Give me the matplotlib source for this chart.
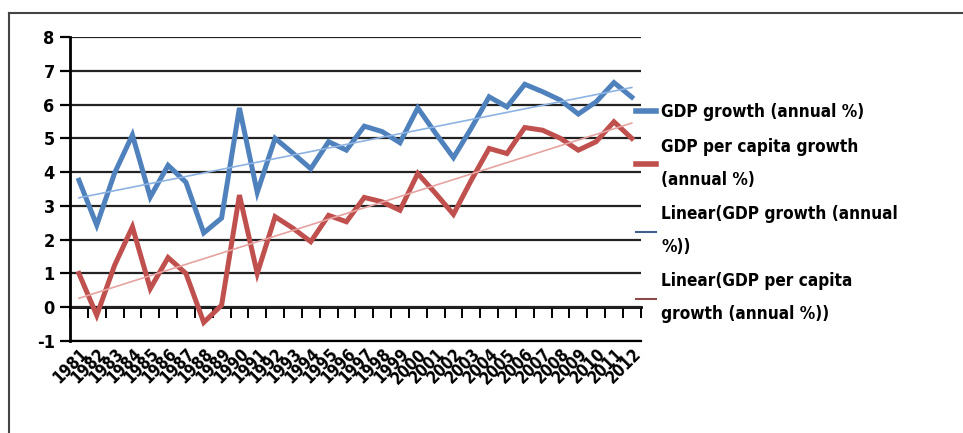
import numpy as np
import matplotlib
matplotlib.use("Agg")
import matplotlib.pyplot as plt
from matplotlib.lines import Line2D

# Bangladesh, 1981-2012
years = [str(y) for y in range(1981, 2013)]
gdp_growth = [3.76, 2.43, 3.97, 5.10, 3.26, 4.20, 3.70, 2.20, 2.64, 5.90,
              3.40, 5.00, 4.56, 4.10, 4.90, 4.65, 5.36, 5.20, 4.87, 5.90,
              5.15, 4.43, 5.30, 6.23, 5.93, 6.60, 6.38, 6.13, 5.72, 6.08,
              6.65, 6.22]
gdp_pc_growth = [1.00, -0.24, 1.24, 2.38, 0.55, 1.47, 1.00, -0.45, 0.06, 3.32,
                 1.00, 2.68, 2.34, 1.94, 2.72, 2.53, 3.25, 3.12, 2.87, 3.96,
                 3.37, 2.75, 3.76, 4.70, 4.55, 5.32, 5.24, 5.00, 4.65, 4.90,
                 5.49, 5.00]
y_ticks = list(range(-1, 9))

blue = "#4F81BD"
red = "#C0504D"

plt.rcParams["font.family"] = ["DejaVu Sans"]
plt.rcParams["font.stretch"] = "condensed"
plt.rcParams["font.weight"] = "bold"

fig = plt.figure(figsize=(9.63, 4.33), dpi=100)
ax = fig.add_axes([70 / 963, 1 - 341 / 433, 570.7 / 963, 304 / 433])

x = np.arange(len(years))
ax.plot(x, gdp_growth, color=blue, lw=3.6, solid_joinstyle="miter")
ax.plot(x, gdp_pc_growth, color=red, lw=3.6, solid_joinstyle="miter")

# linear trend lines
for series, col in [(gdp_growth, "#8DB3E2"), (gdp_pc_growth, "#E6A3A1")]:
    k, b = np.polyfit(x, series, 1)
    ax.plot(x, k * x + b, color=col, lw=1.2)

ax.set_xlim(-0.5, len(years) - 0.5)
ax.set_ylim(-1, 8)
ax.set_yticks(y_ticks)
ax.set_yticklabels([str(v) for v in y_ticks], fontsize=13, fontweight="bold")
ax.yaxis.grid(True, color="#222222", lw=1.6)
ax.set_axisbelow(True)
ax.tick_params(axis="y", direction="out", length=7, width=1.6, pad=4)

for side in ["top", "right"]:
    ax.spines[side].set_visible(False)
ax.spines["left"].set_linewidth(2)
ax.spines["bottom"].set_linewidth(1.6)

# year labels sit under the bottom of the chart
ax.set_xticks(x)
ax.set_xticklabels(years, rotation=45, ha="right", va="top",
                   rotation_mode="anchor", fontsize=12, fontweight="bold")
ax.tick_params(axis="x", length=0, pad=3)

# category axis crosses at zero, with boundary ticks
sec = ax.secondary_xaxis(1 / 9)
sec.set_xticks(np.arange(len(years) + 1) - 0.5)
sec.set_xticklabels([])
sec.tick_params(direction="out", length=8, width=1.4)
sec.spines["bottom"].set_linewidth(2)

handles = [
    Line2D([], [], color=blue, lw=4),
    Line2D([], [], color=red, lw=4),
    Line2D([], [], color="#3F5F8F", lw=1.5),
    Line2D([], [], color="#8B4A4A", lw=1.5),
]
labels = [
    "GDP growth (annual %)",
    "GDP per capita growth\n(annual %)",
    "Linear(GDP growth (annual\n%))",
    "Linear(GDP per capita\ngrowth (annual %))",
]
leg = fig.legend(handles, labels, loc="upper left",
                 bbox_to_anchor=(621 / 963, 1 - 88 / 433),
                 frameon=False, handlelength=1.15, handletextpad=0.3,
                 labelspacing=0.97, prop={"size": 12.3, "weight": "bold",
                                          "stretch": "condensed"})
for t in leg.get_texts():
    t.set_linespacing(2.05)

# outer frame lines
fig.add_artist(Line2D([9 / 963, 9 / 963], [0, 1 - 13 / 433],
                      transform=fig.transFigure, color="#444444", lw=1.5))
fig.add_artist(Line2D([9 / 963, 1], [1 - 13 / 433, 1 - 13 / 433],
                      transform=fig.transFigure, color="#444444", lw=1.5))

fig.savefig("out.png", dpi=100)
